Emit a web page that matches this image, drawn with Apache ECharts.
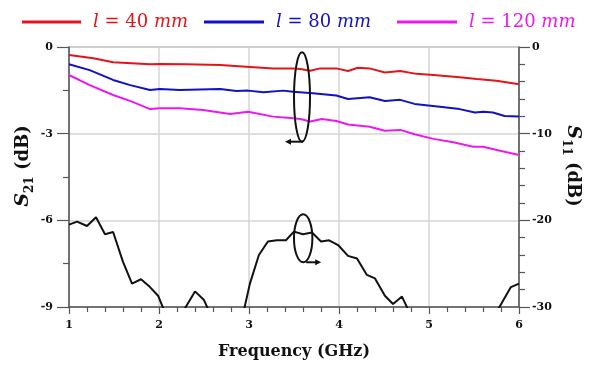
<!DOCTYPE html>
<html>
<head>
<meta charset="utf-8">
<script src="https://cdn.jsdelivr.net/npm/echarts@6/dist/echarts.min.js"></script>
<style>html,body{margin:0;padding:0;background:#fff}#c{width:593px;height:371px}</style>
</head>
<body>
<div id="c"></div>
<script>
// ---- data ----
const seriesNames = ['l = 40 mm', 'l = 80 mm', 'l = 120 mm'];

const freq40 = [1.0,1.27,1.49,1.9,2.01,2.3,2.68,2.97,3.27,3.49,3.57,3.68,3.79,3.97,4.10,4.21,4.34,4.51,4.68,4.86,5.05,5.34,5.53,5.75,6.0];
const s21_40 = [-0.28,-0.39,-0.53,-0.60,-0.59,-0.60,-0.62,-0.68,-0.74,-0.74,-0.76,-0.82,-0.74,-0.74,-0.83,-0.72,-0.74,-0.88,-0.83,-0.93,-0.97,-1.05,-1.11,-1.17,-1.29];

const freq80 = [1.0,1.23,1.49,1.68,1.9,2.01,2.23,2.68,2.86,2.99,3.16,3.38,3.49,3.71,3.97,4.10,4.34,4.51,4.68,4.84,5.12,5.34,5.51,5.60,5.71,5.84,6.0];
const s21_80 = [-0.60,-0.80,-1.14,-1.32,-1.49,-1.45,-1.49,-1.45,-1.52,-1.51,-1.57,-1.51,-1.55,-1.60,-1.68,-1.80,-1.74,-1.87,-1.83,-1.97,-2.07,-2.15,-2.27,-2.24,-2.27,-2.39,-2.41];

const freq120 = [1.0,1.23,1.49,1.70,1.90,2.01,2.23,2.49,2.79,2.99,3.27,3.49,3.57,3.68,3.81,3.97,4.10,4.34,4.51,4.68,4.84,5.05,5.27,5.49,5.60,5.79,6.0];
const s21_120 = [-0.97,-1.32,-1.66,-1.89,-2.15,-2.12,-2.12,-2.18,-2.32,-2.24,-2.41,-2.47,-2.49,-2.58,-2.49,-2.56,-2.68,-2.76,-2.90,-2.87,-3.02,-3.18,-3.30,-3.45,-3.45,-3.59,-3.74];

const freqS11 = [1.0,1.09,1.20,1.30,1.40,1.49,1.60,1.70,1.80,1.90,1.99,2.1,2.2,2.28,2.40,2.50,2.6,2.8,2.93,3.01,3.11,3.21,3.31,3.41,3.50,3.60,3.70,3.80,3.89,3.99,4.10,4.20,4.31,4.40,4.51,4.60,4.70,4.8,5.0,5.5,5.7,5.91,6.0];
const s11 = [-20.5,-20.15,-20.65,-19.65,-21.6,-21.35,-24.8,-27.3,-26.8,-27.7,-28.7,-31.5,-31.6,-30.3,-28.2,-29.2,-31.5,-32,-31,-27.3,-24.0,-22.45,-22.3,-22.3,-21.3,-21.6,-21.4,-22.45,-22.3,-22.85,-24.1,-24.4,-26.3,-26.7,-28.7,-29.65,-28.8,-31,-33,-33,-31.5,-27.7,-27.3];

// annotation anchors (data coordinates)
const annS21 = [3.589, -1.73];   // left axis
const annS11 = [3.602, -22.07];  // right axis

const zip = (a, b) => a.map((v, i) => [v, b[i]]);
const colors = ['#e3141c', '#1212c4', '#ee18ee'];
const serif = 'DejaVu Serif';
const axisCol = '#555';

const chart = echarts.init(document.getElementById('c'), null, {renderer: 'canvas'});

const legendFmt = name => '{g|}{i|l}{n| = ' + name.replace('l = ', '').replace(' mm', '') + ' }{i|mm}';
const legendRich = {
  g: {width: 7},
  i: {fontStyle: 'italic', fontFamily: serif, fontSize: 18},
  n: {fontFamily: serif, fontSize: 18}
};
const legendLefts = [17, 199, 392];
const legendWidths = [59, 60, 60];

const option = {
  animation: false,
  backgroundColor: '#fff',
  legend: seriesNames.map((n, k) => ({
    left: legendLefts[k], top: 6,
    icon: 'rect', itemWidth: legendWidths[k], itemHeight: 3,
    data: [{name: n, textStyle: {color: colors[k]}}],
    formatter: legendFmt,
    textStyle: {color: colors[k], fontFamily: serif, fontSize: 18, lineHeight: 22, rich: legendRich},
    selectedMode: false
  })),
  grid: {left: 69, right: 74, top: 47, bottom: 64, show: true, borderColor: '#777', borderWidth: 1, backgroundColor: 'transparent'},
  xAxis: {
    type: 'value', min: 1, max: 6, interval: 1,
    name: 'Frequency (GHz)', nameLocation: 'middle', nameGap: 37, nameMoveOverlap: false,
    nameTextStyle: {fontFamily: serif, fontWeight: 'bold', fontSize: 16, color: '#111'},
    axisLine: {onZero: false, lineStyle: {color: axisCol, width: 1.5}},
    axisTick: {show: true, inside: false, length: 7, lineStyle: {color: axisCol, width: 1.2}},
    minorTick: {show: true, splitNumber: 5, length: 5, lineStyle: {color: axisCol, width: 1.2}},
    axisLabel: {fontFamily: serif, fontWeight: 'bold', fontSize: 11, color: '#111', margin: 13},
    splitLine: {show: true, lineStyle: {color: '#d4d4d4', width: 1.5}}
  },
  yAxis: [{
    type: 'value', min: -9, max: 0, interval: 3, position: 'left',
    name: '{s|S}{b|21}{n| (dB)}', nameLocation: 'middle', nameGap: 33, nameMoveOverlap: false,
    nameTextStyle: {
      padding: [0, 0, 0, 22],
      rich: {
        s: {fontFamily: serif, fontWeight: 'bold', fontStyle: 'italic', fontSize: 19, color: '#111', lineHeight: 26},
        b: {fontFamily: serif, fontWeight: 'bold', fontSize: 12, color: '#111', verticalAlign: 'bottom', lineHeight: 14},
        n: {fontFamily: serif, fontWeight: 'bold', fontSize: 18, color: '#111', lineHeight: 26}
      }
    },
    axisLine: {show: true, onZero: false, lineStyle: {color: axisCol, width: 1.5}},
    axisTick: {show: true, inside: false, length: 12, lineStyle: {color: axisCol, width: 1.2}},
    minorTick: {show: true, splitNumber: 2, length: 6, lineStyle: {color: axisCol, width: 1.2}},
    axisLabel: {fontFamily: serif, fontWeight: 'bold', fontSize: 11, color: '#111', margin: 16},
    splitLine: {show: true, lineStyle: {color: '#d4d4d4', width: 1.5}}
  }, {
    type: 'value', min: -30, max: 0, interval: 10, position: 'right',
    name: '{s|S}{b|11}{n| (dB)}', nameLocation: 'middle', nameGap: 41, nameRotate: -90, nameMoveOverlap: false,
    nameTextStyle: {
      padding: [0, 22, 0, 0],
      rich: {
        s: {fontFamily: serif, fontWeight: 'bold', fontStyle: 'italic', fontSize: 19, color: '#111', lineHeight: 26},
        b: {fontFamily: serif, fontWeight: 'bold', fontSize: 12, color: '#111', verticalAlign: 'bottom', lineHeight: 14},
        n: {fontFamily: serif, fontWeight: 'bold', fontSize: 18, color: '#111', lineHeight: 26}
      }
    },
    axisLine: {show: true, onZero: false, lineStyle: {color: axisCol, width: 1.5}},
    axisTick: {show: true, inside: false, length: 11, lineStyle: {color: axisCol, width: 1.2}},
    minorTick: {show: true, splitNumber: 5, length: 6, lineStyle: {color: axisCol, width: 1.2}},
    axisLabel: {fontFamily: serif, fontWeight: 'bold', fontSize: 11, color: '#111', margin: 13},
    splitLine: {show: false}
  }],
  series: [
    {name: seriesNames[0], type: 'line', yAxisIndex: 0, data: zip(freq40, s21_40), showSymbol: false, lineStyle: {color: colors[0], width: 2}, itemStyle: {color: colors[0]}},
    {name: seriesNames[1], type: 'line', yAxisIndex: 0, data: zip(freq80, s21_80), showSymbol: false, lineStyle: {color: colors[1], width: 2}, itemStyle: {color: colors[1]}},
    {name: seriesNames[2], type: 'line', yAxisIndex: 0, data: zip(freq120, s21_120), showSymbol: false, lineStyle: {color: colors[2], width: 2}, itemStyle: {color: colors[2]}},
    {name: 'S11', type: 'line', yAxisIndex: 1, data: zip(freqS11, s11), showSymbol: false, clip: true, lineStyle: {color: '#111', width: 2}, itemStyle: {color: '#111'}}
  ]
};
chart.setOption(option);

// annotations: ellipses + arrows anchored to data coordinates
const p1 = chart.convertToPixel({xAxisIndex: 0, yAxisIndex: 0}, annS21);
const p2 = chart.convertToPixel({xAxisIndex: 0, yAxisIndex: 1}, annS11);
const stroke = {stroke: '#111', lineWidth: 2, fill: null};
const e1 = {rx: 8, ry: 44.7};
const e2 = {rx: 9.2, ry: 24};
const a1y = p1[1] + e1.ry, a1x0 = p1[0] + 1, a1x1 = p1[0] - 17;
const a2y = p2[1] + e2.ry, a2x0 = p2[0] + 3, a2x1 = p2[0] + 18;
chart.setOption({
  graphic: [
    {type: 'ellipse', shape: {cx: p1[0], cy: p1[1], rx: e1.rx, ry: e1.ry}, style: stroke, z: 100},
    {type: 'line', shape: {x1: a1x0, y1: a1y, x2: a1x1 + 4, y2: a1y}, style: {stroke: '#111', lineWidth: 2}, z: 100},
    {type: 'polygon', shape: {points: [[a1x1, a1y], [a1x1 + 6, a1y - 3], [a1x1 + 6, a1y + 3]]}, style: {fill: '#111'}, z: 100},
    {type: 'ellipse', shape: {cx: p2[0], cy: p2[1], rx: e2.rx, ry: e2.ry}, style: stroke, z: 100},
    {type: 'line', shape: {x1: a2x0, y1: a2y, x2: a2x1 - 4, y2: a2y}, style: {stroke: '#111', lineWidth: 2}, z: 100},
    {type: 'polygon', shape: {points: [[a2x1, a2y], [a2x1 - 6, a2y - 3], [a2x1 - 6, a2y + 3]]}, style: {fill: '#111'}, z: 100}
  ]
});
</script>
</body>
</html>
